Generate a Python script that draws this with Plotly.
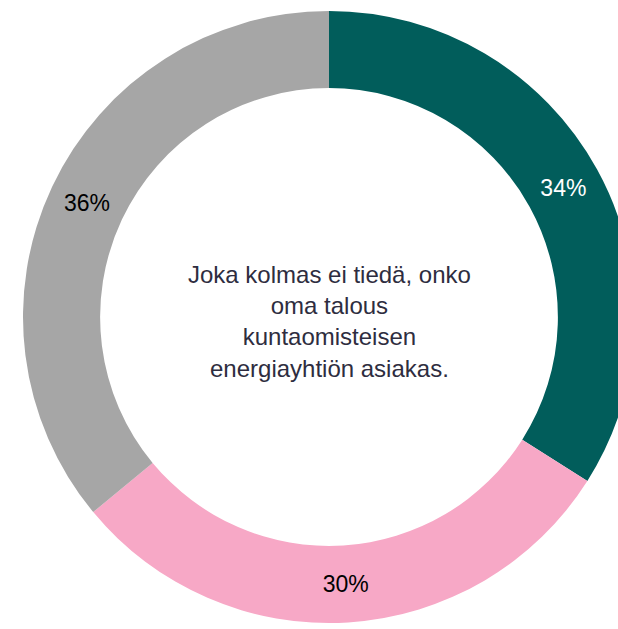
import plotly.graph_objects as go

categories = ["Kyllä", "Ei", "En osaa sanoa"]
values = [34, 30, 36]
colors = ["#015d5b", "#f7a8c6", "#a6a6a6"]
text_colors = ["#ffffff", "#000000", "#000000"]
center_text = "Joka kolmas ei tiedä, onko<br>oma talous<br>kuntaomisteisen<br>energiayhtiön asiakas."

W, H = 660, 629
cx, cy, r = 329, 317, 306

fig = go.Figure(go.Pie(
    labels=categories,
    values=values,
    hole=0.748,
    sort=False,
    direction="clockwise",
    rotation=0,
    marker=dict(colors=colors, line=dict(width=0)),
    texttemplate="%{value}%",
    textposition="inside",
    insidetextorientation="horizontal",
    textfont=dict(family="Liberation Sans, Arial", size=23, color=text_colors),
    domain=dict(x=[(cx - r) / W, (cx + r) / W], y=[(H - cy - r) / H, (H - cy + r) / H]),
    showlegend=False,
    hoverinfo="label+percent",
))

fig.add_annotation(
    x=cx / W, y=(H - cy - 4) / H, xref="paper", yref="paper",
    text=center_text, showarrow=False,
    font=dict(family="Liberation Sans, Arial", size=24, color="#2e2d40"),
    align="center", xanchor="center", yanchor="middle",
)

fig.update_layout(
    width=W, height=H,
    margin=dict(l=0, r=0, t=0, b=0),
    paper_bgcolor="white",
    plot_bgcolor="white",
)

fig.write_html(
    "out.html",
    config={"displayModeBar": False},
    post_script="document.body.style.margin='0';document.body.style.overflow='hidden';document.documentElement.style.overflow='hidden';",
)
